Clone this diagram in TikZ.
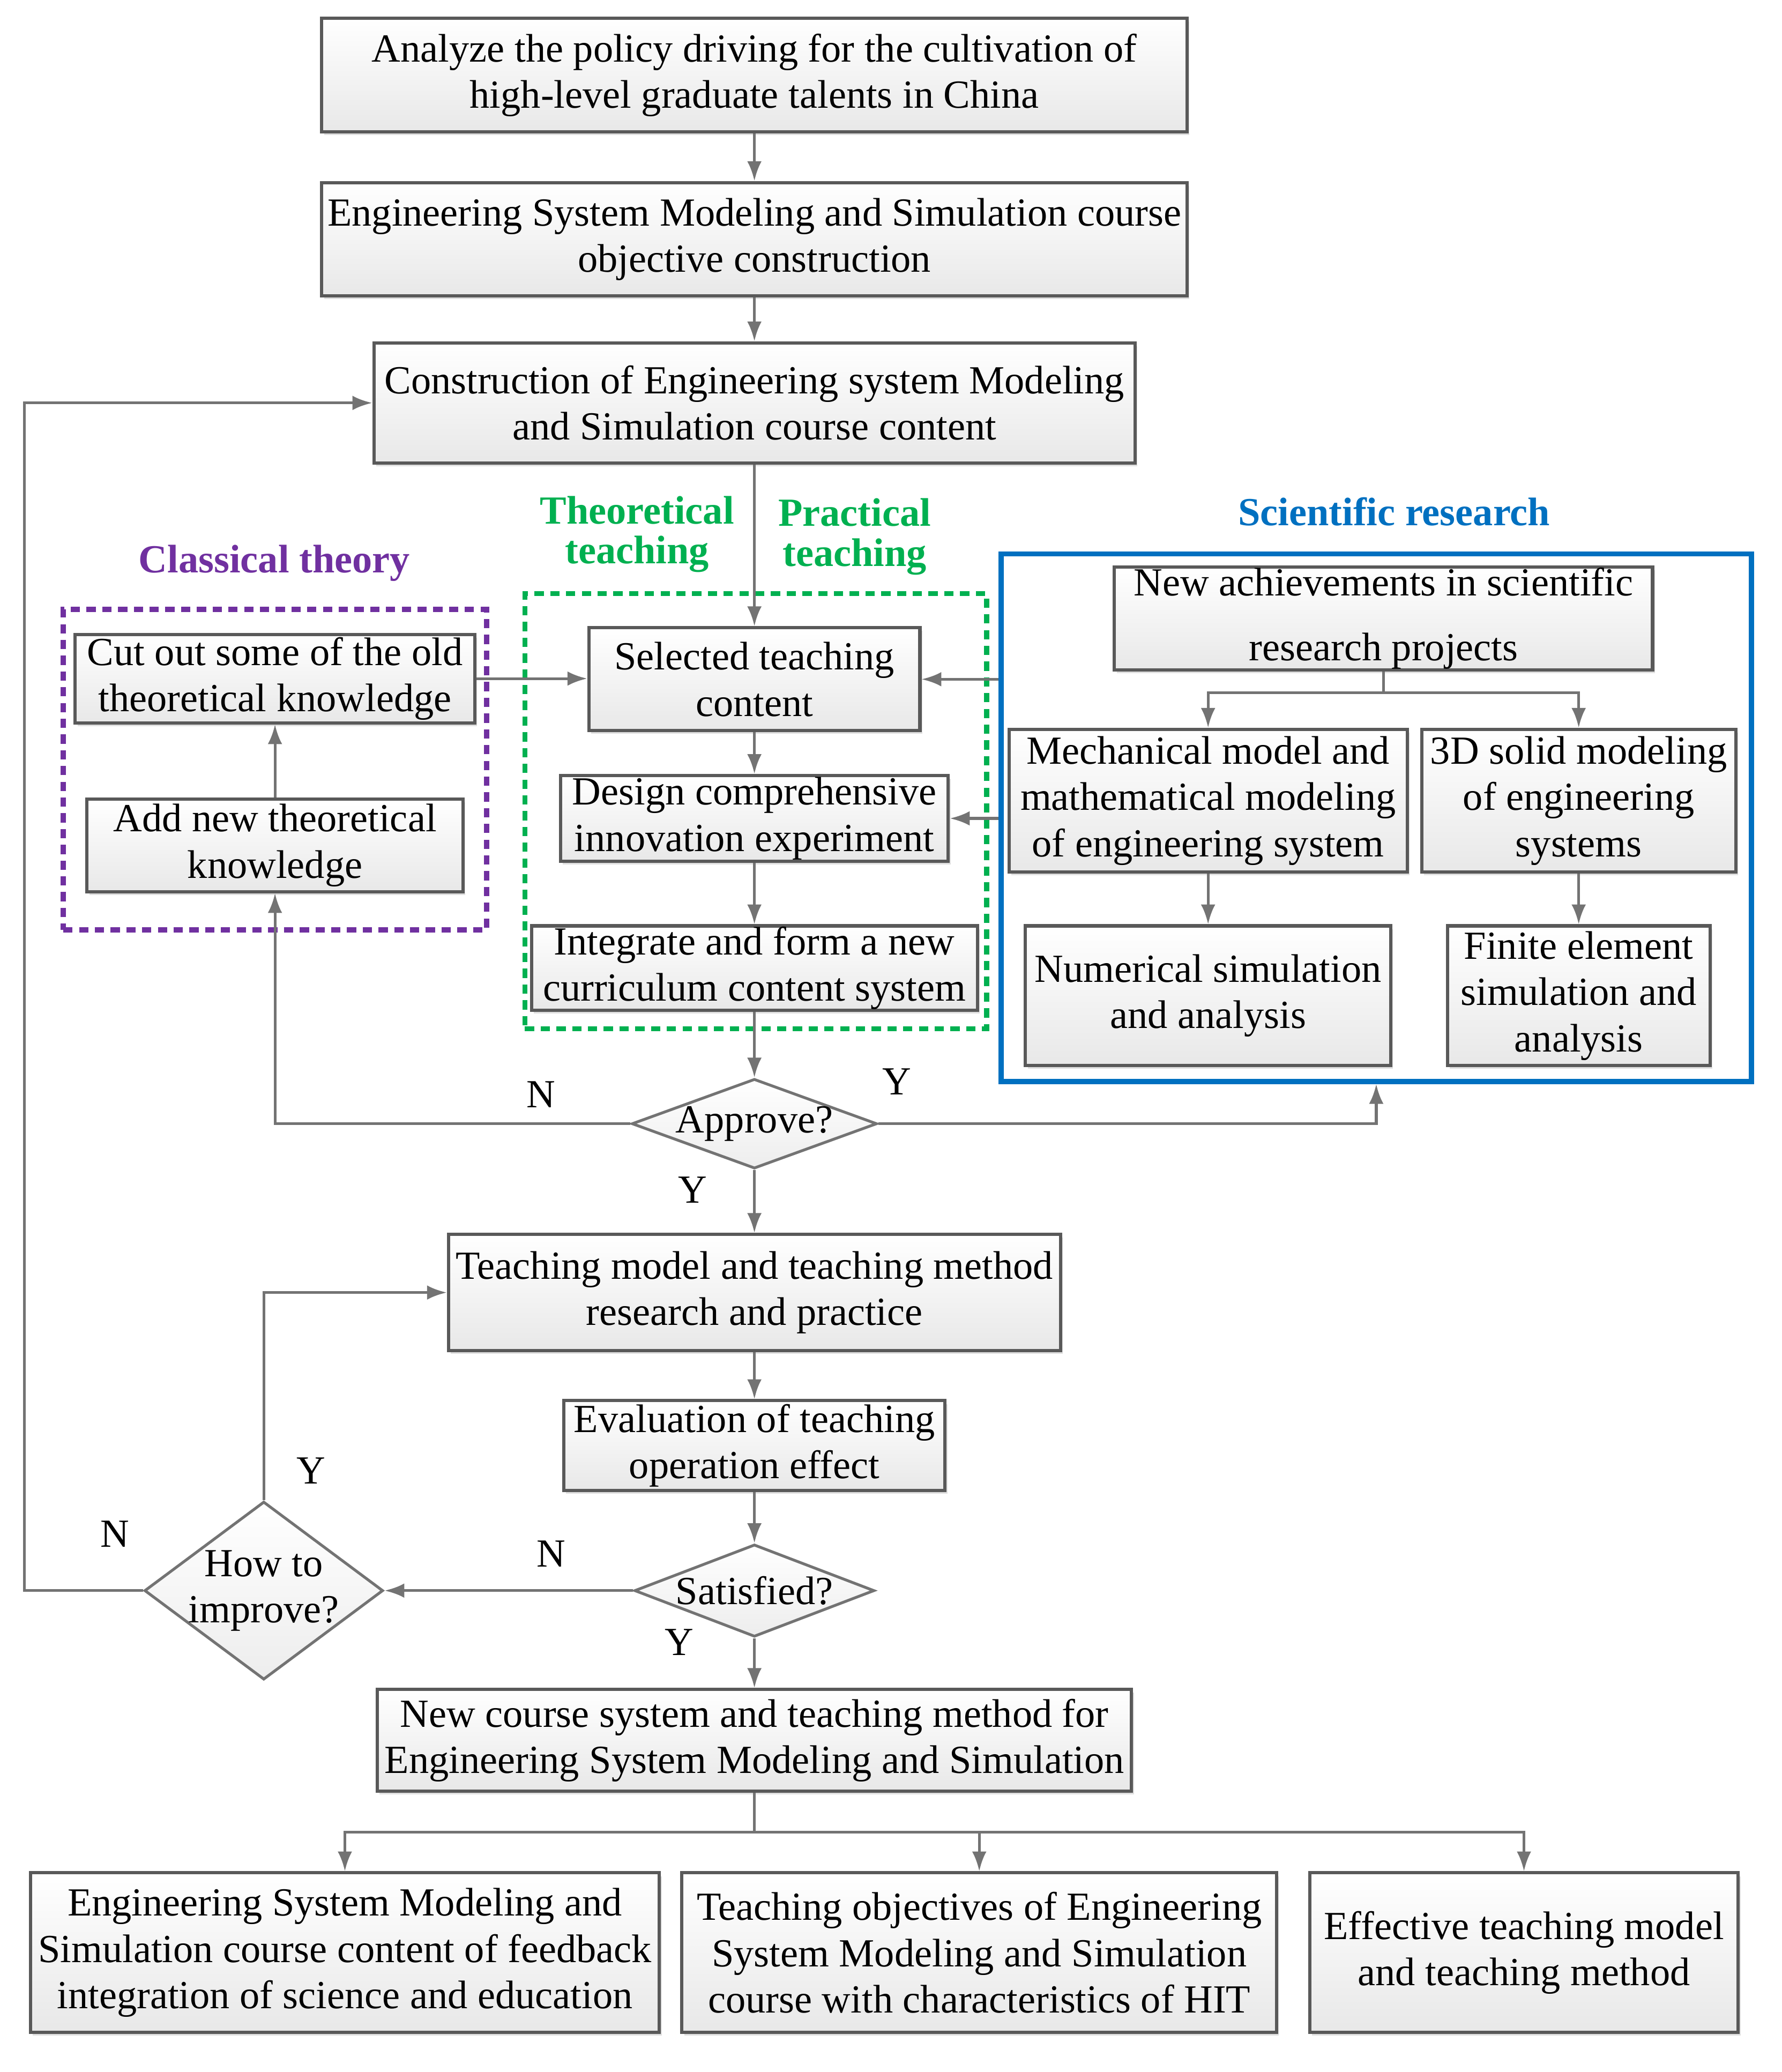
\documentclass[tikz,border=0pt]{standalone}
\usepackage{fontspec}
\setmainfont{Liberation Serif}
\usetikzlibrary{positioning, calc, shapes.geometric, arrows.meta, shadows}

\definecolor{clpurple}{RGB}{112,48,160}
\definecolor{clgreen}{RGB}{0,176,80}
\definecolor{clblue}{RGB}{0,112,192}
\newcommand\boxfont{\fontsize{8.6}{10}\selectfont}
\newcommand\tagfont{\fontsize{8.6}{8.6}\selectfont\bfseries}

\begin{document}
\begin{tikzpicture}[
    box/.style={rectangle, draw=black!65, line width=0.7pt, top color=white, bottom color=black!9,
        align=center, inner sep=0pt, font=\boxfont,
        drop shadow={shadow xshift=0.5pt, shadow yshift=-0.7pt, opacity=0.25}},
    decision/.style={diamond, draw=black!55, line width=0.6pt, top color=white, bottom color=black!7,
        align=center, inner sep=-1pt, font=\boxfont},
    arr/.style={draw=black!55, line width=0.6pt, -{Latex[length=1.5mm,width=1.1mm]}},
    link/.style={draw=black!55, line width=0.6pt},
    tag/.style={font=\tagfont, align=center, inner sep=0pt},
    yn/.style={font=\boxfont, inner sep=0pt},
    frame/.style={rectangle, line width=1.1pt, inner sep=0pt}
]
    \useasboundingbox (0,0) rectangle (13.51,-15.71);

    % group frames
    \node[frame, draw=clpurple, dash pattern=on 2pt off 1.4pt, minimum width=3.21cm, minimum height=2.43cm] (classic) at (2.085,-5.835) {};
    \node[frame, draw=clgreen, dash pattern=on 2pt off 1.4pt, minimum width=3.50cm, minimum height=3.30cm] (practice) at (5.73,-6.15) {};
    \node[frame, draw=clblue, minimum width=5.69cm, minimum height=4.00cm] (sci) at (10.435,-6.20) {};

    % main column
    \node[box, minimum width=6.56cm, minimum height=0.86cm] (policy) at (5.72,-0.57) {Analyze the policy driving for the cultivation of\\high-level graduate talents in China};
    \node[box, minimum width=6.56cm, minimum height=0.86cm, below=0.36cm of policy] (objective) {Engineering System Modeling and Simulation course\\objective construction};
    \node[box, minimum width=5.77cm, minimum height=0.91cm] (content) at (5.72,-3.055) {Construction of Engineering system Modeling\\and Simulation course content};
    \node[box, minimum width=2.51cm, minimum height=0.78cm] (selected) at (5.72,-5.15) {Selected teaching\\content};
    \node[box, minimum width=2.94cm, minimum height=0.65cm] (design) at (5.72,-6.205) {Design comprehensive\\innovation experiment};
    \node[box, minimum width=3.38cm, minimum height=0.64cm] (integrate) at (5.72,-7.34) {Integrate and form a new\\curriculum content system};
    \node[decision, shape aspect=2.7, minimum width=1.86cm, minimum height=0.68cm] (approve) at (5.72,-8.52) {Approve?};
    \node[box, minimum width=4.64cm, minimum height=0.88cm] (method) at (5.72,-9.80) {Teaching model and teaching method\\research and practice};
    \node[box, minimum width=2.89cm, minimum height=0.68cm] (evaluate) at (5.72,-10.96) {Evaluation of teaching\\operation effect};
    \node[decision, shape aspect=2.6, minimum width=1.82cm, minimum height=0.70cm] (satisfied) at (5.72,-12.06) {Satisfied?};
    \node[decision, shape aspect=1.34, minimum width=1.81cm, minimum height=1.35cm] (improve) at (2.00,-12.06) {How to\\improve?};
    \node[box, minimum width=5.72cm, minimum height=0.77cm] (newcourse) at (5.72,-13.195) {New course system and teaching method for\\Engineering System Modeling and Simulation};

    % classical theory
    \node[box, minimum width=3.03cm, minimum height=0.67cm] (cutout) at (2.085,-5.145) {Cut out some of the old\\theoretical knowledge};
    \node[box, minimum width=2.85cm, minimum height=0.70cm] (addnew) at (2.085,-6.41) {Add new theoretical\\knowledge};

    % scientific research
    \node[box, minimum width=4.08cm, minimum height=0.78cm] (achieve) at (10.49,-4.69) {New achievements in scientific\\[4pt]research projects};
    \node[box, minimum width=3.02cm, minimum height=1.08cm] (mechmodel) at (9.16,-6.07) {Mechanical model and\\mathematical modeling\\of engineering system};
    \node[box, minimum width=2.38cm, minimum height=1.08cm] (solidmodel) at (11.97,-6.07) {3D solid modeling\\of engineering\\systems};
    \node[box, minimum width=2.77cm, minimum height=1.06cm] (numsim) at (9.16,-7.55) {Numerical simulation\\and analysis};
    \node[box, minimum width=1.99cm, minimum height=1.06cm] (femsim) at (11.97,-7.55) {Finite element\\simulation and\\analysis};

    % outcomes
    \node[box, minimum width=4.77cm, minimum height=1.21cm] (outfeed) at (2.615,-14.805) {Engineering System Modeling and\\Simulation course content of feedback\\integration of science and education};
    \node[box, minimum width=4.51cm, minimum height=1.21cm] (outgoal) at (7.425,-14.805) {Teaching objectives of Engineering\\System Modeling and Simulation\\course with characteristics of HIT};
    \node[box, minimum width=3.25cm, minimum height=1.21cm] (outmodel) at (11.555,-14.805) {Effective teaching model\\and teaching method};

    \draw[arr] (policy) -- (objective);
    \draw[arr] (objective) -- (content);
    \draw[arr] (content) -- (selected);
    \draw[arr] (selected) -- (design);
    \draw[arr] (design) -- (integrate);
    \draw[arr] (integrate) -- (approve);
    \draw[arr] (approve) -- (method);
    \draw[arr] (method) -- (evaluate);
    \draw[arr] (evaluate) -- (satisfied);
    \draw[arr] (satisfied) -- (newcourse);

    \draw[arr] (cutout.east) -- (cutout.east -| selected.west);
    \draw[arr] (sci.west |- selected) -- (selected.east);
    \draw[arr] (sci.west |- design) -- (design.east);
    \draw[arr] (addnew) -- (cutout);

    \coordinate (split) at ($(achieve.south)+(0,-0.16)$);
    \draw[link] (achieve.south) -- (split);
    \foreach \j in {mechmodel, solidmodel} {
        \draw[arr] (split) -| (\j.north);
    }
    \draw[arr] (mechmodel) -- (numsim);
    \draw[arr] (solidmodel) -- (femsim);

    % feedback loops
    \draw[arr] (approve.west) -| (addnew.south);
    \draw[arr] (approve.east) -| (sci.south);
    \draw[arr] (satisfied.west) -- (improve.east);
    \draw[arr] (improve.north) |- (method.west);
    \draw[arr] (improve.west) -- ++(-0.9,0) |- (content.west);

    \coordinate (fan) at ($(newcourse.south)+(0,-0.30)$);
    \draw[link] (newcourse.south) -- (fan);
    \foreach \j in {outfeed, outgoal, outmodel} {
        \draw[arr] (fan) -| (\j.north);
    }

    % group titles
    \node[tag, text=clpurple] (tclassic) at (2.08,-4.27) {Classical theory};
    \node[tag, text=clgreen] (ttheory) at (4.83,-4.05) {Theoretical\\teaching};
    \node[tag, text=clgreen] (tpractice) at (6.48,-4.07) {Practical\\teaching};
    \node[tag, text=clblue] (tsci) at (10.57,-3.88) {Scientific research};

    % decision labels
    \node[yn] (n1) at (4.10,-8.30) {N};
    \node[yn] (y1) at (6.80,-8.20) {Y};
    \node[yn] (y2) at (5.25,-9.02) {Y};
    \node[yn] (y3) at (2.36,-11.15) {Y};
    \node[yn] (n2) at (0.87,-11.63) {N};
    \node[yn] (n3) at (4.18,-11.78) {N};
    \node[yn] (y4) at (5.15,-12.45) {Y};
\end{tikzpicture}
\end{document}
